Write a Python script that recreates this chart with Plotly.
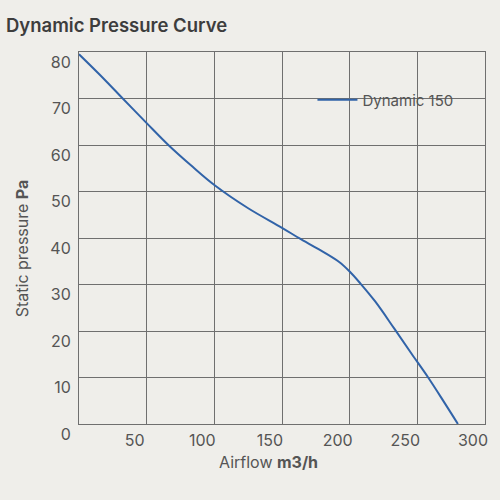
import plotly.graph_objects as go

airflow = [0, 15, 30, 50, 66, 84, 100, 125, 150, 163, 177, 192, 200, 208, 219, 233, 246, 258, 270, 280]
pressure = [79.5, 75.2, 70.7, 64.7, 60, 55.3, 51.4, 46.4, 42.2, 39.9, 37.6, 34.9, 32.8, 30.2, 26.3, 20.5, 15, 10, 4.6, 0]
x_ticks = [0, 50, 100, 150, 200, 250, 300]
x_tick_labels = ["", "50", "100", "150", "200", "250", "300"]  # shared "0" is drawn by the y axis
y_ticks = [0, 10, 20, 30, 40, 50, 60, 70, 80]
y_tick_labels = ["0", "10", "20", "30", "40", "50", "60", "70", "80"]
series_name = "Dynamic 150"

BG = "#efeeea"
GRID = "#6f6f6f"
TXT = "#555555"
FONT = "Inter"

fig = go.Figure()
fig.add_trace(go.Scatter(x=airflow, y=pressure, mode="lines", name=series_name,
                         line=dict(color="#3163a8", width=2, shape="spline", smoothing=1.0)))

# legend box that hides the grid behind it
fig.add_shape(type="rect", xref="x", yref="y", x0=150.8, x1=299.2, y0=60.2, y1=79.8,
              fillcolor=BG, line=dict(width=0), layer="below")

fig.update_layout(
    width=500, height=500,
    margin=dict(l=79, r=13, t=52, b=76),
    paper_bgcolor=BG, plot_bgcolor=BG,
    font=dict(family=FONT, color=TXT, size=16),
    showlegend=True,
    legend=dict(x=0.575, y=0.871, xanchor="left", yanchor="middle", itemwidth=40,
                bgcolor="rgba(0,0,0,0)", font=dict(size=15, color=TXT)),
    xaxis=dict(range=[0, 300], tickvals=x_ticks, ticktext=x_tick_labels,
               showgrid=True, gridcolor=GRID, gridwidth=1, zeroline=False,
               showline=True, linecolor=GRID, linewidth=1, mirror=True,
               ticks="", ticklabelshift=-12, ticklabelstandoff=2,
               tickfont=dict(size=16, color=TXT)),
    yaxis=dict(range=[0, 80], tickvals=y_ticks, ticktext=y_tick_labels,
               showgrid=True, gridcolor=GRID, gridwidth=1, zeroline=False,
               showline=True, linecolor=GRID, linewidth=1, mirror=True,
               ticks="", ticklabelshift=10, ticklabelstandoff=4,
               tickfont=dict(size=16, color=TXT)),
    annotations=[
        dict(text="Dynamic Pressure Curve", xref="paper", yref="paper", x=-75/408, y=1 + 27/372,
             xanchor="left", yanchor="middle", showarrow=False,
             font=dict(size=18.5, color="#3d3d3d", family=FONT, weight=600)),
        dict(text="Airflow <b>m3/h</b>", xref="paper", yref="paper", x=(269 - 79) / 408, y=-(462 - 424) / 372,
             xanchor="center", yanchor="middle", showarrow=False,
             font=dict(size=16, color=TXT)),
        dict(text="Static pressure <b>Pa</b>", xref="paper", yref="paper", x=-(79 - 22) / 408, y=1 - (248 - 52) / 372,
             xanchor="center", yanchor="middle", showarrow=False, textangle=-90,
             font=dict(size=16, color=TXT)),
    ],
)

fig.write_html("out.html")
